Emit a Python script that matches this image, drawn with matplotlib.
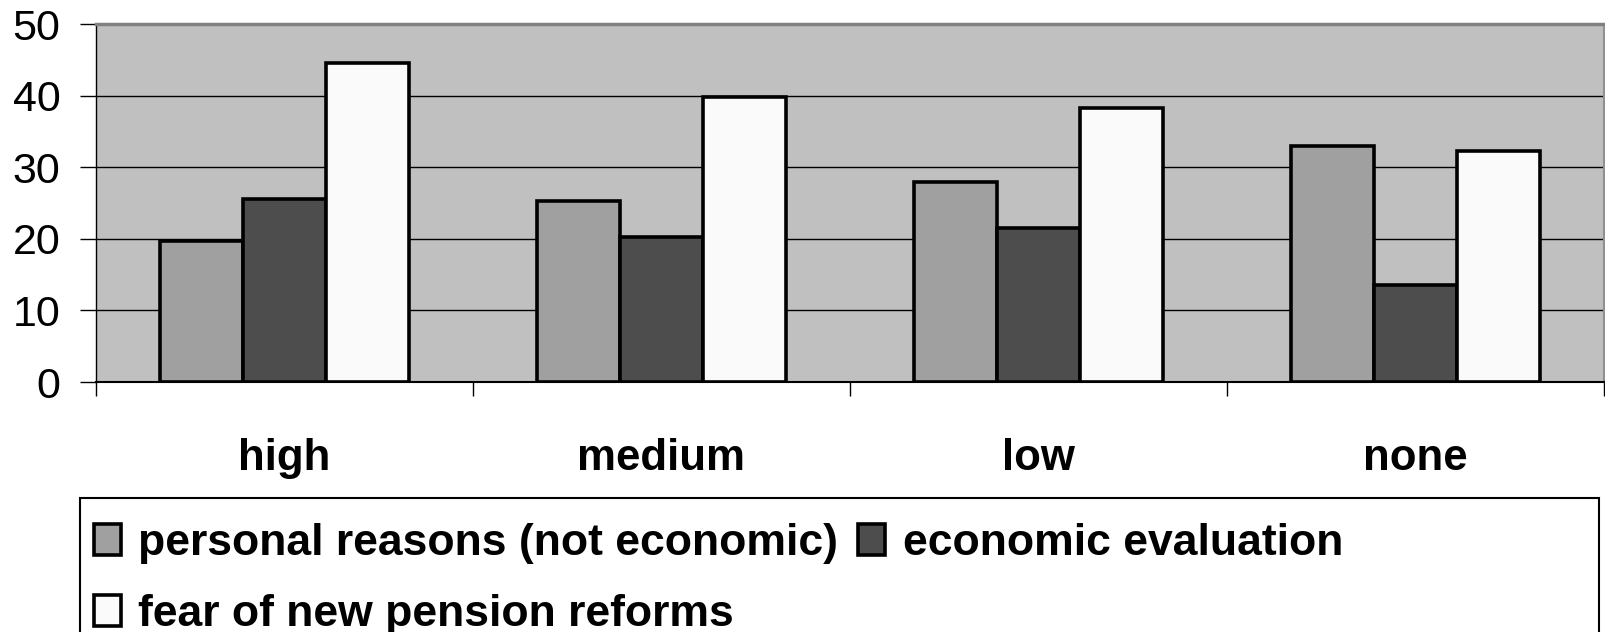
import numpy as np
import matplotlib
matplotlib.use("Agg")
import matplotlib.pyplot as plt
from matplotlib.patches import Rectangle

plt.rcParams['font.family'] = ['Liberation Sans', 'DejaVu Sans']

groups = ['high', 'medium', 'low', 'none']
personal = [19.7, 25.3, 27.9, 32.9]
economic = [25.6, 20.3, 21.5, 13.5]
fear = [44.6, 39.8, 38.2, 32.3]

series = [
    ('personal reasons (not economic)', personal, '#a0a0a0'),
    ('economic evaluation', economic, '#4d4d4d'),
    ('fear of new pension reforms', fear, '#fafafa'),
]

fig = plt.figure(figsize=(16.05, 6.32), dpi=100)
ax = fig.add_axes([96 / 1605, 1 - 382 / 632, 1508 / 1605, 358 / 632])
ax.set_facecolor('#c0c0c0')

x = np.arange(len(groups))
w = 0.22
bars = []
for i, (name, vals, col) in enumerate(series):
    b = ax.bar(x + (i - 1) * w, vals, w, color=col, edgecolor='black',
               linewidth=2.6, label=name, zorder=3)
    bars.append(b)

ax.set_xlim(-0.5, 3.5)
ax.set_ylim(0, 50)
ax.set_yticks([0, 10, 20, 30, 40, 50])
ax.yaxis.grid(True, color='black', linewidth=1.0)
ax.set_axisbelow(True)

ax.tick_params(axis='y', labelsize=31, length=11.5, width=1, pad=14, direction='out')
ax.set_xticks(x)
ax.set_xticklabels(groups, fontsize=31.5, fontweight='bold')
ax.tick_params(axis='x', which='major', length=0, pad=40)
ax.set_xticks(np.arange(-0.5, 4, 1), minor=True)
ax.tick_params(axis='x', which='minor', length=10, width=1, direction='out')

ax.spines['top'].set_color('#808080')
ax.spines['top'].set_linewidth(2.5)
ax.spines['right'].set_color('#909090')
ax.spines['right'].set_linewidth(1.5)
ax.spines['left'].set_linewidth(1)
ax.spines['bottom'].set_linewidth(1.5)

# legend box runs past the bottom edge of the figure
fig.patches.append(Rectangle((80 / 1605, -0.05), 1519 / 1605, 1 - 498 / 632 + 0.05,
                             transform=fig.transFigure, fill=False,
                             edgecolor='black', linewidth=1.5))

handles = [bars[0], bars[2], bars[1]]
labels = [series[0][0], series[2][0], series[1][0]]
fig.legend(handles, labels, loc='upper left',
           bbox_to_anchor=(94 / 1605, 1 - 523 / 632),
           ncol=2, frameon=False, borderpad=0, borderaxespad=0,
           prop={'size': 32, 'weight': 'bold'},
           handlelength=0.6, handleheight=0.7, handletextpad=0.4,
           columnspacing=0.45, labelspacing=0.68)

fig.savefig('out.png', dpi=100)
